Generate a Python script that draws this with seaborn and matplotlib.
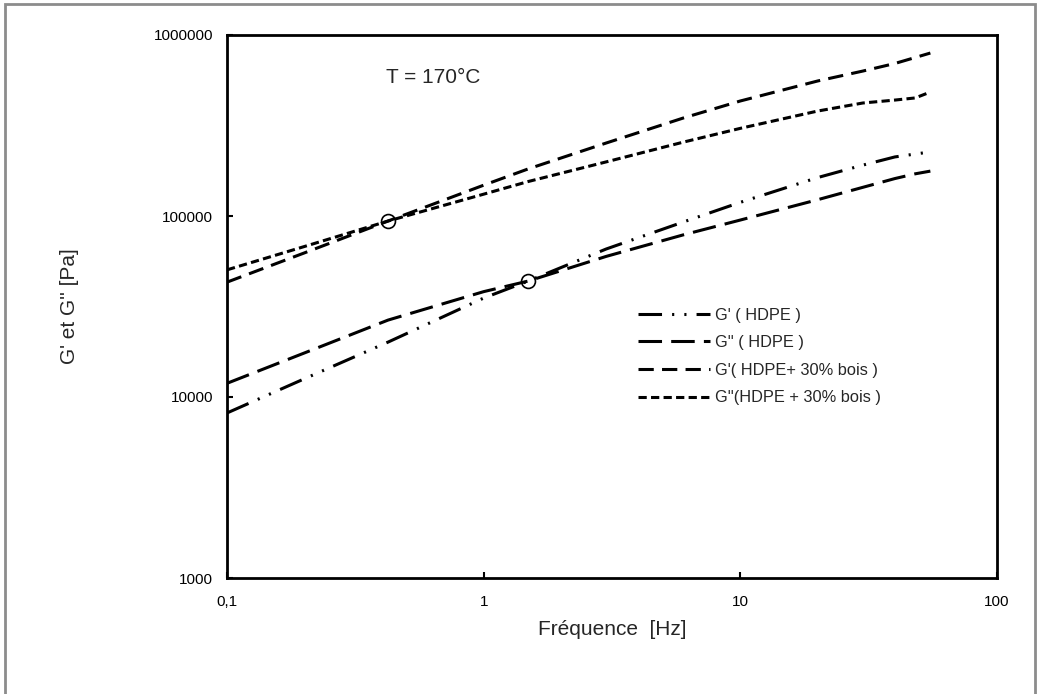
import matplotlib
matplotlib.use("Agg")
import matplotlib.pyplot as plt
import seaborn as sns
import pandas as pd
from matplotlib.lines import Line2D
from matplotlib.patches import Rectangle
from matplotlib.ticker import FixedLocator, FixedFormatter, NullLocator

# ---------------- data ----------------
freq = [0.1, 0.2, 0.424, 1, 1.49, 3, 6, 10, 20, 30, 40, 48, 55]
g1_hdpe = [8160, 12600, 20100, 35200, 43700, 65700, 92700, 119000, 163000, 191000, 212000, 220000, 226000]
g2_hdpe = [11900, 17500, 26600, 38200, 43700, 59800, 78700, 95000, 123000, 144000, 161000, 171000, 177000]
g1_wood = [43100, 62500, 93800, 148000, 182000, 253000, 348000, 432000, 557000, 632000, 696000, 751000, 795000]
g2_wood = [50400, 67800, 93800, 132000, 155000, 199000, 256000, 305000, 380000, 421000, 437000, 449000, 484000]

series_names = ["G' ( HDPE )", "G'' ( HDPE )", "G'( HDPE+ 30% bois )", "G''(HDPE + 30% bois )"]
cross_f = [0.424, 1.49]
cross_g = [93800, 43700]

x_ticks = [0.1, 1, 10, 100]
x_labels = ["0,1", "1", "10", "100"]
y_ticks = [1000, 10000, 100000, 1000000]
y_labels = ["1000", "10000", "100000", "1000000"]

# ---------------- build table ----------------
rows = []
for name, vals in zip(series_names, [g1_hdpe, g2_hdpe, g1_wood, g2_wood]):
    for f, g in zip(freq, vals):
        rows.append({"f": f, "G": g, "serie": name})
df = pd.DataFrame(rows)

dash_map = {
    series_names[0]: (7.7, 3.3, 0.7, 3.3, 0.7, 3.3),
    series_names[1]: (7.7, 3.0),
    series_names[2]: (5.0, 2.7),
    series_names[3]: (2.7, 1.4),
}

sns.set_theme(style="white")
plt.rcParams["font.family"] = ["Liberation Sans", "DejaVu Sans"]

fig = plt.figure(figsize=(10.4, 6.94), dpi=100)
ax = fig.add_axes([227 / 1040, 1 - 578 / 694, 770 / 1040, 543 / 694])

sns.lineplot(data=df, x="f", y="G", hue="serie", style="serie",
             palette={n: "black" for n in series_names}, dashes=dash_map,
             estimator=None, sort=True, linewidth=2.2, legend=False, ax=ax)

ax.plot(cross_f, cross_g, linestyle="none", marker="o", markersize=10,
        markerfacecolor="none", markeredgecolor="black", markeredgewidth=1.2)

ax.set_xscale("log")
ax.set_yscale("log")
ax.set_xlim(0.1, 100)
ax.set_ylim(1000, 1000000)
ax.xaxis.set_major_locator(FixedLocator(x_ticks))
ax.xaxis.set_major_formatter(FixedFormatter(x_labels))
ax.yaxis.set_major_locator(FixedLocator(y_ticks))
ax.yaxis.set_major_formatter(FixedFormatter(y_labels))
ax.xaxis.set_minor_locator(NullLocator())
ax.yaxis.set_minor_locator(NullLocator())
ax.tick_params(axis="both", which="major", direction="in", length=4, width=1.5,
               labelsize=11, colors="black")
ax.tick_params(axis="x", pad=12)
ax.tick_params(axis="y", pad=10)
ax.tick_params(bottom=True, left=True, top=False, right=False)

for s in ax.spines.values():
    s.set_visible(True)
    s.set_color("black")
    s.set_linewidth(2.0)

ax.set_xlabel("Fréquence  [Hz]", fontsize=15, labelpad=8)
ax.set_ylabel("G' et G'' [Pa]", fontsize=15, labelpad=54)

ax.text(0.206, 0.921, "T = 170°C", transform=ax.transAxes, fontsize=15,
        ha="left", va="center")

handles = [Line2D([0], [0], color="black", linewidth=2.2, dashes=dash_map[n])
           for n in series_names]
ax.legend(handles, series_names, loc="upper left", bbox_to_anchor=(0.534, 0.498),
          frameon=False, fontsize=11.8, handlelength=4.4, handletextpad=0.3,
          labelspacing=0.77, borderpad=0, borderaxespad=0)

# outer grey frame
fig.patches.append(Rectangle((5 / 1040, -0.05), 1030 / 1040, 1.05 - 4 / 694,
                             transform=fig.transFigure, fill=False,
                             edgecolor="#8c8c8c", linewidth=2.0))

fig.savefig("out.png", dpi=100)
